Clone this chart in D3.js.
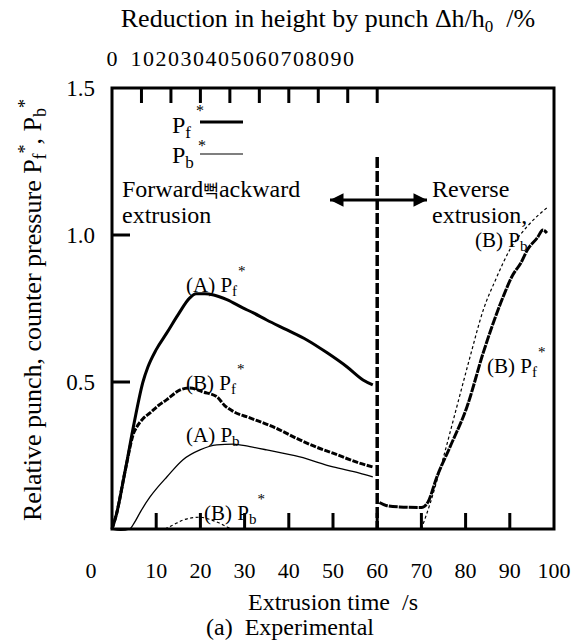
<!DOCTYPE html>
<meta charset="utf-8">
<style>
body { margin: 0; background: #fff; }
svg, svg text { font-family: 'Liberation Serif', Tinos, 'Times New Roman', 'DejaVu Serif', serif; fill: #000; }
</style>
<svg width="582" height="643" font-family="Liberation Serif"></svg>
<script src="https://d3js.org/d3.v7.min.js"></script>
<script>

// extrusion time (s) vs relative pressure
var aPf = [[0,0],[1,0.05],[3,0.2],[5,0.36],[7,0.5],[8.1,0.55],[10,0.61],[12.4,0.667],[15,0.73],[17.6,0.786],[19,0.8],[21,0.8],[23,0.796],[26,0.78],[29.6,0.752],[32,0.735],[35,0.711],[39.6,0.677],[44.1,0.643],[48.6,0.6],[53.2,0.551],[56.8,0.507],[59,0.49]];
var bPf = [[0,0],[1,0.05],[3,0.2],[5,0.33],[5.6,0.347],[7,0.375],[8.6,0.395],[10.5,0.42],[12.4,0.44],[15.4,0.473],[17.6,0.48],[20.6,0.466],[23.7,0.45],[25.5,0.42],[27.4,0.4],[31.2,0.378],[36.5,0.347],[42.5,0.303],[46,0.28],[50,0.258],[56,0.224],[59,0.211]];
var aPb = [[0,0],[2,-0.005],[4,0],[5,0.02],[6.5,0.06],[8.6,0.109],[10.5,0.145],[12.4,0.177],[16,0.235],[19.9,0.269],[23.7,0.286],[27.4,0.289],[31.2,0.28],[35,0.269],[42.5,0.245],[50,0.211],[56,0.19],[59,0.177]];
var bPb = [[12,0],[14,0.015],[16,0.03],[18,0.038],[20,0.04],[22,0.033],[24,0.022],[26,0.007],[27,0]];
var bPfRev = [[60.5,0.09],[62,0.08],[65,0.075],[70,0.073],[71.5,0.092],[73.5,0.177],[76.5,0.28],[80.3,0.415],[84,0.6],[86,0.69],[88.5,0.79],[90.7,0.865],[92.5,0.905],[94,0.95],[96.2,0.99],[97.5,1.017],[98.4,1.007]];
var bPbRev = [[70,0],[72,0.088],[75,0.245],[78,0.415],[81,0.585],[84,0.745],[87,0.855],[90,0.95],[94,1.03],[98.6,1.095]];

var xTicks = [0,10,20,30,40,50,60,70,80,90,100];
var yTicks = [0.5,1.0,1.5];
var topTicks = [0,10,20,30,40,50,60,70,80,90];

var FONT = "'Liberation Serif', Tinos, 'Times New Roman', 'DejaVu Serif', serif";
var svg = d3.select("svg");
var x = d3.scaleLinear().domain([0,100]).range([112,554]);
var y = d3.scaleLinear().domain([0,1.5]).range([529,88]);
var xTop = d3.scaleLinear().domain([0,90]).range([x(0), x(60)]);

var line = d3.line().x(function(d) { return x(d[0]); }).y(function(d) { return y(d[1]); }).curve(d3.curveMonotoneX);

function txt(px, py, size) {
  return svg.append("text").attr("x", px).attr("y", py).attr("font-size", size).attr("font-family", FONT);
}

// ticks inside
var g = svg.append("g");
g.selectAll(".bt").data(xTicks.slice(1,10)).enter().append("line")
  .attr("x1", function(d){return x(d);}).attr("x2", function(d){return x(d);})
  .attr("y1", y(0)).attr("y2", y(0)-16).attr("stroke","#000").attr("stroke-width",3);
g.selectAll(".tt").data(topTicks.slice(1)).enter().append("line")
  .attr("x1", function(d){return xTop(d);}).attr("x2", function(d){return xTop(d);})
  .attr("y1", y(1.5)).attr("y2", y(1.5)+15).attr("stroke","#000").attr("stroke-width",3);
g.selectAll(".lt").data(yTicks.slice(0,2)).enter().append("line")
  .attr("x1", x(0)).attr("x2", x(0)+18)
  .attr("y1", function(d){return y(d);}).attr("y2", function(d){return y(d);})
  .attr("stroke","#000").attr("stroke-width",3);

// frame
svg.append("rect").attr("x", x(0)).attr("y", y(1.5)).attr("width", x(100)-x(0)).attr("height", y(0)-y(1.5))
  .attr("fill","none").attr("stroke","#000").attr("stroke-width",3);

// dashed divider at 60 s
svg.append("line").attr("x1", x(60)).attr("x2", x(60)).attr("y1", 157).attr("y2", y(0))
  .attr("stroke","#000").attr("stroke-width",3.5).attr("stroke-dasharray","11,3");

// curves
function curve(data, w, dash) {
  var p = svg.append("path").datum(data).attr("d", line).attr("fill","none")
    .attr("stroke","#000").attr("stroke-width", w).attr("stroke-linejoin","round");
  if (dash) p.attr("stroke-dasharray", dash);
}
curve(aPf, 3);
curve(bPf, 3, "6,1.5");
curve(aPb, 1.3);
curve(bPb, 1.2, "3,2.5");
curve(bPfRev, 3, "9,1");
curve(bPbRev, 1.2, "3,2.5");

// arrow
var defs = svg.append("defs");
defs.append("marker").attr("id","ah").attr("viewBox","0 0 10 10").attr("refX",10).attr("refY",5)
  .attr("markerWidth",6).attr("markerHeight",4.5).attr("markerUnits","strokeWidth").attr("orient","auto-start-reverse")
  .append("path").attr("d","M0,0L10,5L0,10z").attr("fill","#000");
svg.append("line").attr("x1", 330).attr("x2", 427).attr("y1", 200).attr("y2", 200)
  .attr("stroke","#000").attr("stroke-width",3)
  .attr("marker-start","url(#ah)").attr("marker-end","url(#ah)");

// axis tick labels
xTicks.forEach(function(d) {
  txt(d === 0 ? x(d)-21 : x(d), 578, 22).attr("text-anchor","middle").text(d);
});
yTicks.forEach(function(d) {
  txt(95, y(d)+8, 23).attr("text-anchor","end").text(d.toFixed(1));
});
txt(xTop(0), 66, 22).attr("text-anchor","middle").text(topTicks[0]);
txt(xTop(10)-11, 66, 22).attr("letter-spacing",1.5).text(topTicks.slice(1).join(""));

// titles
var tt = txt(328, 27, 26).attr("text-anchor","middle");
tt.append("tspan").text("Reduction in height by punch \u0394h/h");
tt.append("tspan").attr("font-size",17).attr("dy",5).text("0");
tt.append("tspan").attr("dy",-5).text("\u00a0 /%");
txt(333, 610, 24).attr("text-anchor","middle").text("Extrusion time \u00a0/s");
txt(290, 635, 24).attr("text-anchor","middle").text("(a) \u00a0Experimental");

var yt = txt(0, 0, 26).attr("transform","translate(41,310) rotate(-90)").attr("text-anchor","middle");
yt.append("tspan").text("Relative punch, counter pressure P");
yt.append("tspan").attr("font-size",18).attr("dy",5).text("f");
yt.append("tspan").attr("font-size",18).attr("dy",-15).text("*");
yt.append("tspan").attr("dy",10).text(", P");
yt.append("tspan").attr("font-size",18).attr("dy",5).text("b");
yt.append("tspan").attr("font-size",18).attr("dy",-15).text("*");

// legend
var lg1 = txt(172, 133, 24);
lg1.append("tspan").text("P");
lg1.append("tspan").attr("font-size",17).attr("dy",5).text("f");
txt(196, 116, 16).text("*");
txt(198, 151, 16).text("*");
svg.append("line").attr("x1",200).attr("x2",243).attr("y1",122).attr("y2",122).attr("stroke","#000").attr("stroke-width",3);
var lg2 = txt(172, 163, 24);
lg2.append("tspan").text("P");
lg2.append("tspan").attr("font-size",17).attr("dy",5).text("b");
svg.append("line").attr("x1",200).attr("x2",243).attr("y1",154).attr("y2",154).attr("stroke","#000").attr("stroke-width",1.2);

// region labels
var fw = txt(122, 197, 24);
fw.append("tspan").text("Forward");
fw.append("tspan").attr("font-family","Noto Sans CJK KR").attr("font-size",17).text("\ubed1");
fw.append("tspan").text("ackward");
txt(122, 223, 24).text("extrusion");
txt(432, 197, 24).text("Reverse");
txt(432, 223, 24).text("extrusion,");

// curve labels
function curveLabel(px, py, pre, sub, star) {
  var t = txt(px, py, 21);
  t.append("tspan").text(pre + " P");
  t.append("tspan").attr("font-size",15).attr("dy",4).text(sub);
  if (star) t.append("tspan").attr("font-size",15).attr("dy",-20).attr("dx",1).text("*");
}
curveLabel(186, 292, "(A)", "f", true);
curveLabel(186, 390, "(B)", "f", true);
curveLabel(186, 442, "(A)", "b", false);
curveLabel(204, 520, "(B)", "b", true);
curveLabel(475, 247, "(B)", "b", false);
curveLabel(487, 373, "(B)", "f", true);

</script>
